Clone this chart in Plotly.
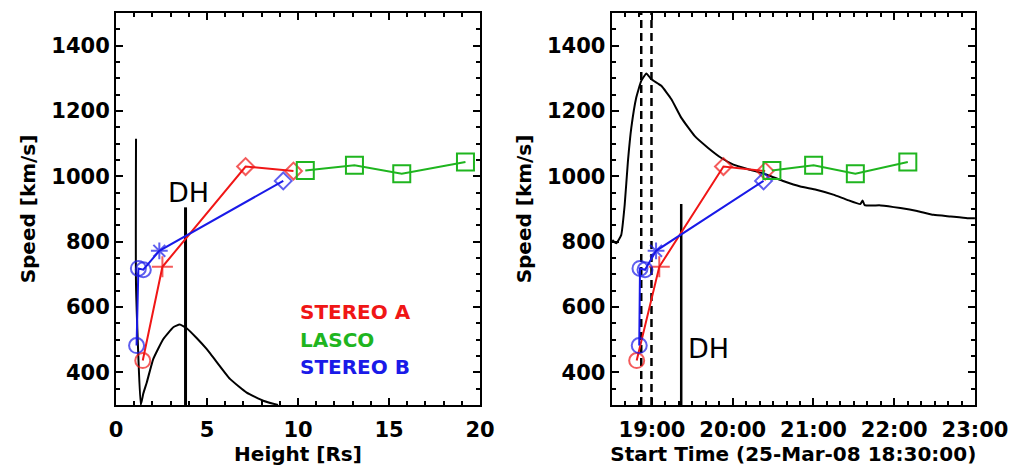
import plotly.graph_objects as go

DAY = "2008-03-25 "

# ---- data ----
# STEREO A
a_height = [1.47, 2.55, 7.12, 9.75]
a_time = ["18:48:36", "19:05:24", "19:53:06", "20:24:06"]
a_speed = [436, 723, 1030, 1016]
a_symbol = ["circle-open", "cross-thin-open", "diamond-open", "diamond-open"]

# STEREO B
b_height = [1.13, 1.23, 1.50, 2.38, 9.19]
b_time = ["18:50:30", "18:51:04", "18:54:48", "19:03:00", "20:22:54"]
b_speed = [482, 718, 714, 772, 986]
b_symbol = ["circle-open", "circle-open", "circle-open", "asterisk-open", "diamond-open"]

# LASCO
l_height = [10.4, 13.1, 15.7, 19.2]
l_time = ["20:29:06", "21:00:06", "21:31:06", "22:10:06"]
l_speed = [1018, 1034, 1008, 1044]

# black profile, height panel
prof_h = [1.10, 1.10, 1.36, 1.50, 1.69, 2.05, 2.60, 3.15, 3.50, 3.88, 4.43, 5.00, 5.35, 6.26, 7.18, 8.09, 8.90]
prof_hv = [1115, 667, 300, 335, 369, 441, 502, 538, 546, 535, 505, 470, 445, 380, 338, 313, 300]

# black profile, time panel
prof_t = ["18:30:30", "18:33:24", "18:37:06", "18:39:42", "18:42:06", "18:44:36", "18:48:18",
          "18:52:00", "18:55:48", "18:59:30", "19:06:54", "19:14:24", "19:21:48", "19:31:48",
          "19:41:42", "19:51:36", "20:00:30", "20:13:00", "20:25:24", "20:38:00", "20:50:12",
          "21:02:00", "21:14:42", "21:25:00", "21:34:48", "21:36:30", "21:38:00", "21:50:00",
          "22:04:36", "22:17:00", "22:29:12", "22:42:00", "22:54:18", "23:00:00"]
prof_tv = [805, 795, 820, 913, 1046, 1148, 1241, 1292, 1315, 1297, 1277, 1236, 1179, 1123,
           1087, 1056, 1036, 1020, 1005, 985, 969, 959, 944, 928, 915, 926, 912, 911,
           903, 894, 882, 877, 872, 872]

# marker lines
dh_height = 3.82
dh_top_left = 905
dh_time = "19:21:42"
dh_top_right = 915
dashed_times = ["18:52:00", "18:59:36"]

legend_names = ["STEREO A", "LASCO", "STEREO B"]
legend_speeds = [585, 498, 415]

RED = "#f01616"
GREEN = "#1fb51f"
BLUE = "#1a1ae8"
FONT = "DejaVu Sans"

t = lambda s: DAY + s

fig = go.Figure()

def mk(symbols, color, size):
    return dict(symbol=symbols, size=size, color=color, line=dict(width=2, color=color))

# --- left panel ---
fig.add_trace(go.Scatter(x=prof_h, y=prof_hv, mode="lines", line=dict(color="black", width=2, shape="spline", smoothing=0.4),
                         xaxis="x", yaxis="y", showlegend=False))
fig.add_trace(go.Scatter(x=[dh_height, dh_height], y=[300, dh_top_left], mode="lines",
                         line=dict(color="black", width=3), xaxis="x", yaxis="y", showlegend=False))
fig.add_trace(go.Scatter(x=a_height, y=a_speed, mode="lines+markers", line=dict(color=RED, width=2),
                         marker=mk(a_symbol, RED, [15, 15, 13, 13]), xaxis="x", yaxis="y", showlegend=False))
fig.add_trace(go.Scatter(x=b_height, y=b_speed, mode="lines+markers", line=dict(color=BLUE, width=2),
                         marker=mk(b_symbol, BLUE, [15, 15, 15, 14, 13]), xaxis="x", yaxis="y", showlegend=False))
fig.add_trace(go.Scatter(x=l_height, y=l_speed, mode="lines+markers", line=dict(color=GREEN, width=2),
                         marker=mk("square-open", GREEN, 17), xaxis="x", yaxis="y", showlegend=False))

# --- right panel ---
fig.add_trace(go.Scatter(x=[t(s) for s in prof_t], y=prof_tv, mode="lines",
                         line=dict(color="black", width=2, shape="spline", smoothing=0.4),
                         xaxis="x2", yaxis="y2", showlegend=False))
for dt in dashed_times:
    fig.add_trace(go.Scatter(x=[t(dt), t(dt)], y=[300, 1500], mode="lines",
                             line=dict(color="black", width=2.5, dash="8px,5px"),
                             xaxis="x2", yaxis="y2", showlegend=False))
fig.add_trace(go.Scatter(x=[t(dh_time), t(dh_time)], y=[300, dh_top_right], mode="lines",
                         line=dict(color="black", width=2.5), xaxis="x2", yaxis="y2", showlegend=False))
fig.add_trace(go.Scatter(x=[t(s) for s in a_time], y=a_speed, mode="lines+markers", line=dict(color=RED, width=2),
                         marker=mk(a_symbol, RED, [15, 15, 13, 13]), xaxis="x2", yaxis="y2", showlegend=False))
fig.add_trace(go.Scatter(x=[t(s) for s in b_time], y=b_speed, mode="lines+markers", line=dict(color=BLUE, width=2),
                         marker=mk(b_symbol, BLUE, [15, 15, 15, 14, 13]), xaxis="x2", yaxis="y2", showlegend=False))
fig.add_trace(go.Scatter(x=[t(s) for s in l_time], y=l_speed, mode="lines+markers", line=dict(color=GREEN, width=2),
                         marker=mk("square-open", GREEN, 17), xaxis="x2", yaxis="y2", showlegend=False))

tickfont = dict(family=FONT, size=21, color="black", weight="bold")
titlefont = dict(family=FONT, size=20, color="black", weight="bold")
common = dict(showline=True, linewidth=2, linecolor="black", mirror="ticks", ticks="inside",
              ticklen=7, tickwidth=2, tickcolor="black", showgrid=False, zeroline=False,
              tickfont=tickfont, automargin=False)
yax = dict(common, range=[300, 1500], tick0=400, dtick=200,
           minor=dict(dtick=50, ticklen=4, tickwidth=1.5, ticks="inside", tickcolor="black"),
           title=dict(text="Speed [km/s]", font=titlefont, standoff=10))

fig.update_layout(
    width=1014, height=469,
    margin=dict(l=0, r=0, t=0, b=0),
    paper_bgcolor="white", plot_bgcolor="white",
    xaxis=dict(common, domain=[0.1144, 0.4734], range=[0, 20], dtick=5, anchor="y",
               ticklabelstandoff=5,
               minor=dict(dtick=1, ticklen=4, tickwidth=1.5, ticks="inside", tickcolor="black"),
               title=dict(text="Height [Rs]", font=titlefont, standoff=3)),
    yaxis=dict(yax, domain=[0.1365, 0.9723], anchor="x"),
    xaxis2=dict(common, domain=[0.6032, 0.9615], type="date", anchor="y2",
                ticklabelstandoff=5,
                range=[t("18:30:00"), t("23:00:00")], tick0=t("19:00:00"), dtick=3600000,
                tickformat="%H:%M",
                minor=dict(dtick=600000, ticklen=4, tickwidth=1.5, ticks="inside", tickcolor="black"),
                title=dict(text="Start Time (25-Mar-08 18:30:00)", font=titlefont, standoff=3)),
    yaxis2=dict(yax, domain=[0.1365, 0.9723], anchor="x2"),
)

annos = [
    dict(x=2.75, y=950, xref="x", yref="y", text="DH", showarrow=False, xanchor="left", yanchor="middle",
         font=dict(family=FONT, size=27, color="black")),
    dict(x=t("19:25:00"), y=472, xref="x2", yref="y2", text="DH", showarrow=False, xanchor="left",
         yanchor="middle", font=dict(family=FONT, size=27, color="black")),
]
for name, sp, col in zip(legend_names, legend_speeds, [RED, GREEN, BLUE]):
    annos.append(dict(x=10.0, y=sp, xref="x", yref="y", text=name, showarrow=False, xanchor="left",
                      yanchor="middle", font=dict(family=FONT, size=20, color=col, weight="bold")))
fig.update_layout(annotations=annos)

fig.write_html("out.html", config={"displayModeBar": False},
               post_script="document.body.style.margin='0';document.body.style.overflow='hidden';")
